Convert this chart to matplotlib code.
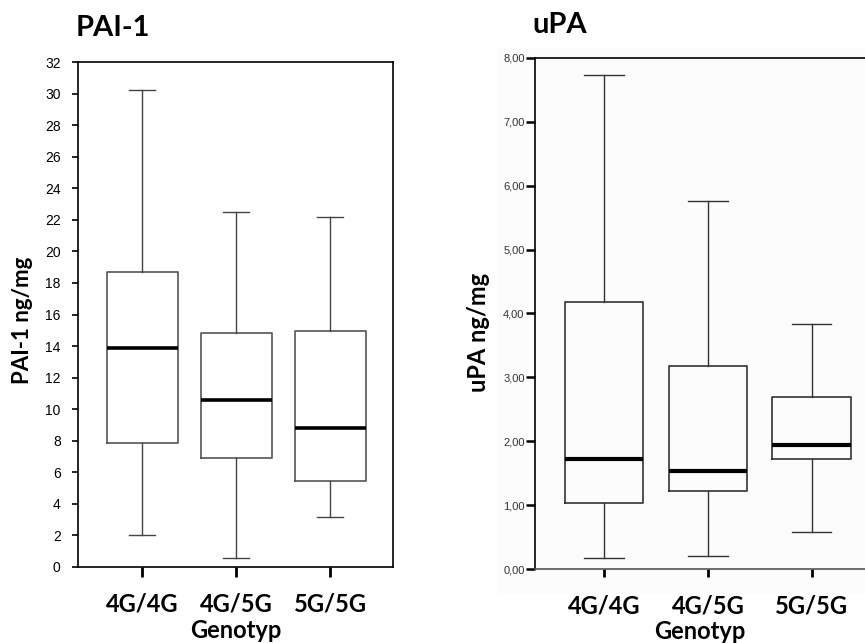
#!/usr/bin/env python
"""Boxplots of PAI-1 and uPA by genotype."""
import matplotlib
matplotlib.use("Agg")
import matplotlib.pyplot as plt
from matplotlib.patches import Rectangle

# genotype groups
genotypes = ["4G/4G", "4G/5G", "5G/5G"]

# PAI-1 ng/mg: whisker low, Q1, median, Q3, whisker high
pai_low = [2.05, 0.57, 3.2]
pai_q1 = [7.84, 6.89, 5.45]
pai_med = [13.86, 10.56, 8.8]
pai_q3 = [18.7, 14.85, 14.98]
pai_high = [30.2, 22.5, 22.18]

# uPA ng/mg
upa_low = [0.17, 0.21, 0.58]
upa_q1 = [1.03, 1.22, 1.72]
upa_med = [1.72, 1.54, 1.94]
upa_q3 = [4.18, 3.18, 2.70]
upa_high = [7.73, 5.76, 3.84]

pai_ticks = list(range(0, 33, 2))
upa_ticks = [0, 1, 2, 3, 4, 5, 6, 7, 8]
upa_ticklabels = ["0,00", "1,00", "2,00", "3,00", "4,00",
                  "5,00", "6,00", "7,00", "8,00"]

bold = dict(family="Lato", weight="bold")


def stats(low, q1, med, q3, high):
    out = []
    for i in range(len(low)):
        out.append(dict(whislo=low[i], q1=q1[i], med=med[i],
                        q3=q3[i], whishi=high[i], fliers=[]))
    return out


fig = plt.figure(figsize=(8.65, 6.43), dpi=100)

# faint grey backdrop behind the uPA panel
bg = Rectangle((498 / 865, 1 - 593 / 643), 1, 545 / 643,
               transform=fig.transFigure, color="#fcfcfc", zorder=-10)
fig.patches.append(bg)

# ---- PAI-1 panel
ax1 = fig.add_axes([78 / 865, 1 - 567 / 643, 315 / 865, 505 / 643])
ax1.bxp(stats(pai_low, pai_q1, pai_med, pai_q3, pai_high),
        positions=[1, 2, 3], widths=0.754, capwidths=0.28,
        showfliers=False,
        boxprops=dict(color="#555555", linewidth=1.2),
        whiskerprops=dict(color="#444444", linewidth=1.0),
        capprops=dict(color="#444444", linewidth=1.0),
        medianprops=dict(color="black", linewidth=2.6))
ax1.set_xlim(0.32, 3.666)
ax1.set_ylim(0, 32)
ax1.set_yticks(pai_ticks)
ax1.set_yticklabels([str(t) for t in pai_ticks], family="Liberation Sans",
                    fontsize=10)
ax1.set_xticks([1, 2, 3])
ax1.set_xticklabels(genotypes, fontsize=17, **bold)
ax1.tick_params(axis="y", length=4, width=1.2, pad=8.5)
ax1.tick_params(axis="x", length=7, width=2, pad=11)
for s in ax1.spines.values():
    s.set_linewidth(1.2)
ax1.set_xlabel("Genotyp", fontsize=17, labelpad=3, **bold)
ax1.set_ylabel("PAI-1 ng/mg", fontsize=16, **bold)
ax1.yaxis.set_label_coords(-45 / 315, (567 - 320) / 505)
fig.text(76 / 865, 1 - 28 / 643, "PAI-1", fontsize=21, va="center",
         ha="left", **bold)

# ---- uPA panel
ax2 = fig.add_axes([535 / 865, 1 - 569.3 / 643, 330 / 865, 511.6 / 643])
ax2.set_facecolor("#fcfcfc")
ax2.bxp(stats(upa_low, upa_q1, upa_med, upa_q3, upa_high),
        positions=[1, 2, 3], widths=0.756, capwidths=0.38,
        showfliers=False,
        boxprops=dict(color="#333333", linewidth=1.2),
        whiskerprops=dict(color="#333333", linewidth=1.0),
        capprops=dict(color="#333333", linewidth=1.0),
        medianprops=dict(color="black", linewidth=3.0))
ax2.set_xlim(0.336, 3.513)
ax2.set_ylim(0, 8)
ax2.set_yticks(upa_ticks)
ax2.set_yticklabels(upa_ticklabels, family="Liberation Sans", fontsize=8,
                    color="#333333")
ax2.set_xticks([1, 2, 3])
ax2.set_xticklabels(genotypes, fontsize=17, **bold)
ax2.tick_params(axis="y", length=6.5, width=1.8, pad=1)
ax2.tick_params(axis="x", length=6, width=2, pad=12)
ax2.spines["right"].set_visible(False)
for s in ax2.spines.values():
    s.set_linewidth(1.2)
ax2.spines["bottom"].set_color("#555555")
ax2.set_xlabel("Genotyp", fontsize=17, labelpad=2, **bold)
ax2.set_ylabel("uPA ng/mg", fontsize=17, **bold)
ax2.yaxis.set_label_coords(-45 / 330, (569.3 - 332) / 511.6)
fig.text(532 / 865, 1 - 25 / 643, "uPA", fontsize=21, va="center",
         ha="left", **bold)

fig.savefig("out.png", dpi=100)
